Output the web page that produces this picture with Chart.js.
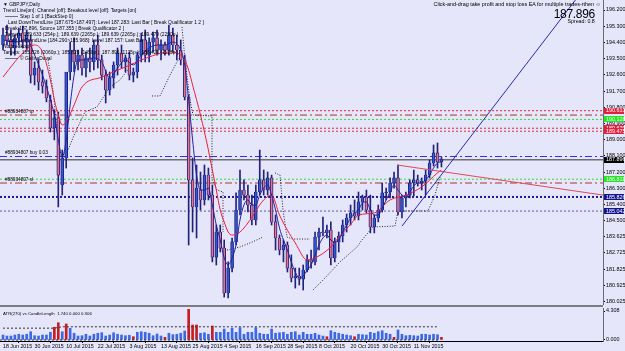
<!DOCTYPE html>
<html><head><meta charset="utf-8">
<script src="https://cdn.jsdelivr.net/npm/chart.js@4.4.0/dist/chart.umd.min.js"></script>
<style>
html,body{margin:0;padding:0;background:#E6E6FA;width:625px;height:351px;overflow:hidden;position:relative;font-family:'Liberation Sans',Arial,sans-serif;}
canvas{position:absolute;left:0;}
#c1{top:0;}
#c2{top:307px;}
.blk{position:absolute;white-space:nowrap;color:#000;transform-origin:0 0;}
.sep{position:absolute;left:0;top:305px;width:603px;height:2px;background:#7c7c84;}
</style></head><body>
<canvas id="c1" width="625" height="305"></canvas>
<div class="sep"></div>
<canvas id="c2" width="625" height="44"></canvas>

<div class="blk" style="left:3px;top:1px;font-size:9.8px;line-height:12px;transform:scale(0.5);">
<div>▼ GBPJPY,Daily</div>
<div>Trend Line[on]: Channel [off]: Breakout level [off]: Targets [on]</div>
<div style="padding-left:34px;position:relative;"><span style="position:absolute;left:4px;top:6px;width:26px;border-top:1px solid #000;"></span>Step 1 of 1 [BackStep 0]</div>
<div style="padding-left:10px;">Last DownTrendLine [187.675&gt;187.497]: Level 187.283: Last Bar [ Break Qualificator 1 2 ]</div>
<div style="padding-left:4px;">Break 187.896, Source 187.355 [ Break Qualificator 2 ]</div>
<div style="padding-left:4px;">Targets: 189.633 (254p.); 189.639 (2265p.); 189.639 (2265p.); 189.479 (2290p.)</div>
<div style="padding-left:10px;">Last UpTrendLine [184.290&gt;185.968]: Level 187.157: Last Bar</div>
<div>No breakout</div>
<div>Targets: 185.826 (2060p.); 185.826 (1450p.); 187.896 (1125p.); 188.420 (1125p.)</div>
<div style="padding-left:34px;position:relative;"><span style="position:absolute;left:4px;top:6px;width:26px;border-top:1px solid #000;"></span>© GalinaDuval</div>
</div>

<div class="blk" style="right:24px;top:1px;font-size:10.8px;line-height:12px;transform-origin:100% 0;transform:scale(0.5);">Click-and-drag take profit and stop loss EA for multiple trades-rthen ☺</div>
<div class="blk" style="right:30px;top:7px;font-size:12px;line-height:14px;letter-spacing:-0.3px;">187.896</div>
<div class="blk" style="right:30px;top:18px;font-size:10.6px;line-height:12px;transform-origin:100% 0;transform:scale(0.5);">Spread: 0.8</div>

<div class="blk" style="left:5px;top:108px;font-size:9.4px;line-height:12px;transform:scale(0.5);">#88934807 tp</div>
<div class="blk" style="left:5px;top:149px;font-size:9.4px;line-height:12px;transform:scale(0.5);">#88934807 buy 0.03</div>
<div class="blk" style="left:5px;top:176px;font-size:9.4px;line-height:12px;transform:scale(0.5);">#88934807 sl</div>
<div class="blk" style="left:3px;top:310px;font-size:8.6px;line-height:12px;transform:scale(0.5);">ATR(270) vs CandleLength&nbsp; 1.740 0.000 0.306</div>

<script>
// ---------- DATA ----------
const opens  = [194.26,194.81,194.54,194.09,194.65,194.92,194.42,194.54,192.59,192.98,192.21,191.98,191.21,189.65,190.21,186.49,187.99,192.76,193.98,193.32,193.70,192.98,193.54,193.32,194.26,193.43,192.59,191.76,192.43,193.15,193.81,193.32,193.54,192.59,192.76,193.70,194.54,193.70,194.42,194.65,193.98,194.26,193.98,194.81,194.26,193.98,193.43,191.37,186.77,185.27,186.21,185.66,187.04,185.93,182.49,183.88,182.99,180.50,181.88,183.33,185.10,186.21,185.93,185.38,184.55,186.10,186.77,186.21,186.88,184.44,183.55,182.88,183.16,181.88,181.33,181.44,181.27,181.77,182.33,182.22,183.60,183.88,183.83,183.99,182.44,183.33,183.66,184.27,184.66,184.94,184.77,185.55,185.82,185.10,184.16,184.66,185.10,186.05,186.10,186.60,186.88,184.99,185.77,185.93,186.60,186.77,186.60,186.71,187.04,187.71,188.27,187.77];
const highs  = [195.20,195.37,195.09,194.81,195.20,195.31,195.09,194.81,193.32,193.43,192.87,192.32,191.48,190.65,190.54,188.43,191.65,194.42,194.65,193.98,194.09,193.87,194.09,194.54,194.81,193.70,192.87,192.76,193.32,194.09,194.26,193.70,193.87,192.98,193.87,194.92,195.09,194.65,194.98,195.09,194.54,194.42,195.37,195.20,194.81,194.54,193.70,191.48,187.99,187.60,187.21,187.60,187.43,186.49,184.27,184.27,183.44,182.22,183.55,186.05,187.32,186.77,186.49,185.93,186.49,188.43,187.32,187.21,187.04,184.83,183.72,183.44,183.33,182.61,181.88,181.88,182.05,182.61,182.88,183.88,184.10,184.71,184.27,184.44,183.55,183.88,184.55,184.88,185.38,185.66,186.10,185.93,186.21,185.93,184.83,185.38,186.60,186.32,186.88,187.21,187.60,185.93,186.10,186.77,187.32,187.04,186.88,187.32,187.88,188.71,188.82,188.02];
const lows   = [193.98,194.26,193.70,193.70,194.26,194.09,193.98,192.15,192.04,191.76,191.59,191.10,189.43,188.99,185.27,185.93,187.43,192.32,192.76,192.87,192.59,192.48,192.76,192.87,192.98,192.32,191.04,191.48,191.87,192.59,192.98,192.76,192.32,192.21,192.43,193.32,193.32,193.32,193.87,193.70,193.43,193.70,193.70,193.87,193.43,193.15,191.21,183.16,183.88,183.55,185.10,185.38,185.66,182.22,182.05,182.77,180.27,180.22,181.66,183.16,184.83,185.66,184.99,184.27,184.27,185.93,185.93,185.93,184.27,182.88,182.61,182.22,181.66,181.11,180.77,180.94,180.66,181.66,181.88,182.05,182.88,183.66,183.55,182.05,182.22,182.77,183.33,183.88,184.27,184.55,184.55,185.10,184.94,183.83,183.83,184.44,184.99,185.66,185.77,186.32,184.83,184.66,185.27,185.77,185.88,186.43,186.21,185.93,186.88,187.54,187.43,187.49];
const closes = [194.81,194.54,194.09,194.65,194.92,194.42,194.81,192.59,192.98,192.21,191.98,191.32,189.65,190.21,187.04,187.99,192.76,193.98,193.32,193.70,192.98,193.54,193.32,194.26,193.43,192.59,191.76,192.43,193.15,193.81,193.32,193.54,192.59,192.76,193.70,194.54,193.70,194.42,194.65,193.98,194.26,193.98,194.81,194.26,193.98,193.43,191.37,186.77,185.27,186.32,185.66,187.04,185.93,182.49,183.88,182.99,180.50,181.88,183.33,185.10,186.21,185.93,185.38,184.55,186.10,186.77,186.21,186.88,184.44,183.55,182.88,183.16,181.88,181.33,181.44,181.27,181.77,182.33,182.22,183.60,183.88,183.83,183.99,182.44,183.33,183.66,184.27,184.66,184.94,184.77,185.55,185.82,185.10,184.16,184.66,185.10,186.05,186.10,186.60,186.88,184.99,185.77,185.93,186.60,186.77,186.60,186.71,187.04,187.71,188.27,187.77,187.90];

const redMaIdx = [0,3,5,8,10,12,13,14,15,16,18,20,25,31,37,42,45,46,47,48,50,52,53,54,55,56,57,58,60,62,66,68,70,74,77,79,83,85,88,90,94,98,102,106,110,111];
const redMaVal = [192.48,193.32,193.81,194.26,193.87,192.32,191.21,190.37,189.82,189.99,190.93,191.93,192.48,193.04,193.59,193.87,193.70,193.43,192.87,192.04,190.37,188.43,187.32,186.21,185.10,184.44,183.88,183.71,183.88,184.38,185.66,185.93,184.82,183.27,182.33,182.44,183.05,183.60,184.30,184.82,184.94,185.66,185.93,186.38,187.16,187.32];

const navyMaIdx = [0,3,6,8,10,12,13,14,15,16,17,18,19,21,23,25,27,29,31,33,35,37,39,41,43,45,46,47,48,49,50,51,52,53,54,55,56,57,58,59,60,61,62,63,64,65,66,67,68,69,70,71,72,73,74,75,76,77,78,79,80,81,82,83,84,85,86,87,88,89,90,91,92,93,94,95,96,97,98,99,100,101,102,103,104,105,106,107,108,109,110,111];
const navyMaVal = [194.54,194.42,194.54,193.70,192.59,191.21,190.37,188.99,188.04,188.99,190.93,192.59,193.43,193.43,193.54,193.31,192.43,192.98,193.43,193.15,193.70,194.09,194.26,194.26,194.42,193.98,193.15,191.21,188.99,187.04,186.21,186.21,186.32,185.38,184.27,183.44,182.44,182.05,182.44,183.16,184.55,185.38,185.66,185.38,185.38,185.93,186.32,186.49,185.93,185.10,184.10,183.44,182.88,182.22,181.66,181.33,181.44,181.77,182.05,182.61,183.16,183.55,183.71,183.44,183.33,183.44,183.88,184.27,184.66,184.88,185.10,185.49,185.55,185.10,184.82,184.82,185.21,185.66,186.10,186.49,186.21,185.93,185.77,186.10,186.43,186.60,186.60,186.77,187.04,187.43,187.71,187.77];

const stopIdx = [11.39,12.66,13.67,14.43,16.46,18.23,20.76,23.80,27.09,29.62,32.91,null,37.72,39.75,42.28,44.05,44.81,null,45.32,46.08,47.34,48.10,52.91,52.91,54.18,55.70,55.70,null,56.71,60.00,62.53,65.82,null,68.86,70.13,70.89,71.90,73.42,77.72,null,78.48,81.52,85.32,89.62,90.89,93.67,99.24,100.00,107.59,109.37,110.63];
const stopVal = [193.43,191.76,189.54,188.04,188.43,189.38,190.54,190.82,191.93,192.32,193.26,null,191.43,191.43,192.59,193.32,193.59,null,195.26,193.43,191.21,190.37,190.32,186.77,186.21,186.10,183.88,null,182.88,183.05,183.27,183.60,null,187.16,187.04,185.10,183.60,183.49,183.49,null,180.66,181.33,182.22,183.05,183.44,184.16,184.21,185.05,185.05,185.93,186.93];

const trendUpIdx = [101.01,151.14];
const trendUpVal = [184.21,198.53];
const trendDownIdx = [99.75,151.9];
const trendDownVal = [187.60,185.93];

const levelValues = [190.613,190.37,190.128,189.639,189.475,188.07,187.896,186.811,186.6,185.826,185.042];
const boxValues   = [190.613,190.128,189.639,189.475,187.896,186.811,185.826,185.042];
const priceTicks  = [196.2,195.3,194.4,193.5,192.6,191.7,190.8,189.9,189.0,188.1,187.2,186.3,185.4,184.5,183.625,182.725,181.825,180.925,180.025];

const atrValues = [0.74,0.59,0.59,0.74,0.85,0.74,0.85,1.23,0.64,0.59,0.74,0.74,1.14,1.89,2.57,1.23,2.38,1.74,1.00,0.59,0.64,0.85,0.59,0.85,1.00,1.08,0.59,0.74,1.08,0.85,0.74,0.64,0.70,0.49,1.14,1.23,1.14,1.00,0.64,0.89,0.59,0.40,1.00,0.79,0.85,1.00,1.34,4.56,2.23,2.23,1.00,1.08,0.85,2.08,1.14,1.14,1.63,1.14,1.74,1.14,1.83,0.85,1.14,1.14,1.83,1.00,0.85,0.85,1.63,1.00,1.08,1.14,0.85,1.14,1.23,0.74,1.14,0.85,0.85,1.00,0.74,0.59,0.49,1.38,1.14,1.00,0.85,0.74,0.64,0.49,0.85,0.79,0.74,1.14,1.00,1.23,1.38,1.00,0.85,0.40,1.49,0.85,0.64,0.70,0.64,0.59,0.85,0.85,0.74,0.85,0.79,0.40];
const atrRedIdx = [13,14,16,33,41,47,48,49,53,82,89,99,111];
const atrLevelIdx = [0,13,15,110];
const atrLevelVal = [1.76,1.76,1.96,1.96];
const atrTicks = [0,4.308];

const dateTickIdx = [0,8,16,24,32,40,48,56,64,72,80,88,96,104];
const dateLabels = ["18 Jun 2015","30 Jun 2015","10 Jul 2015","22 Jul 2015","3 Aug 2015","13 Aug 2015","25 Aug 2015","4 Sep 2015","16 Sep 2015","28 Sep 2015","8 Oct 2015","20 Oct 2015","30 Oct 2015","11 Nov 2015"];

// ---------- STYLES ----------
const X_MIN = -0.76, X_MAX = 151.9;
const FONT = "'Liberation Sans', Arial, sans-serif";
const levelColors = ['#E0283C','#A83232','#33DD33','#E0283C','#E0283C','#3030EE','#6E6E6E','#33DD33','#A83232','#1C1C8C','#5A5AAA'];
const levelDash = [[2,2],[7,3,2,3],[2,2],[2,2],[2,2],[7,3,2,3],[],[2,2],[7,3,2,3],[2,2],[2,2]];
const levelWidth = [1,1,1,1,1,1,1.5,1,1,2,1];
const boxBg = ['#E0203C','#22E622','#E0203C','#E0203C','#000000','#22E622','#14148C','#14148C'];
const boxFg = ['#FFFFFF','#FFFFFF','#FFFFFF','#FFFFFF','#FFFFFF','#FFFFFF','#FFFFFF','#FFFFFF'];

const zip = (a,b)=>a.map((x,i)=>({x:x, y:b[i]}));
const idx = opens.map((_,i)=>i);

const datasets = [];
levelValues.forEach((v,k)=>{
  datasets.push({type:'line', data:[{x:X_MIN,y:v},{x:X_MAX,y:v}], borderColor:levelColors[k], borderDash:levelDash[k], borderWidth:levelWidth[k], pointRadius:0, order:30});
});
datasets.push({type:'line', data:zip(stopIdx,stopVal), borderColor:'#222', borderDash:[1,1.6], borderWidth:1, pointRadius:0, spanGaps:false, order:25});
datasets.push({type:'bar', data:idx.map(i=>({x:i,y:[lows[i],highs[i]]})), backgroundColor:'#22227C', barThickness:1, grouped:false, borderWidth:0, order:20});
datasets.push({type:'bar', data:idx.map(i=>({x:i,y:[opens[i],closes[i]]})),
  backgroundColor: idx.map(i=> closes[i]>=opens[i] ? '#3457DA' : '#F0708A'),
  borderColor:'#1E2278', borderWidth:{left:1,right:1,top:0.6,bottom:0.6}, borderSkipped:false, barThickness:3, grouped:false, order:19});
datasets.push({type:'line', data:zip(redMaIdx,redMaVal), borderColor:'#E8203C', borderWidth:1, pointRadius:0, cubicInterpolationMode:'monotone', order:10});
datasets.push({type:'line', data:zip(navyMaIdx,navyMaVal), borderColor:'#22229E', borderWidth:1, pointRadius:0, cubicInterpolationMode:'monotone', order:9});
datasets.push({type:'line', data:zip(trendDownIdx,trendDownVal), borderColor:'#E04858', borderWidth:1, pointRadius:0, order:5});
datasets.push({type:'line', data:zip(trendUpIdx,trendUpVal), borderColor:'#2A2AA8', borderWidth:1, pointRadius:0, order:4});

const boxPlugin = {
  id:'boxes',
  afterDraw(chart){
    const s = chart.scales.y, ctx = chart.ctx, left = chart.chartArea.right;
    ctx.save();
    ctx.font = '5.4px ' + FONT;
    ctx.textBaseline = 'middle';
    boxValues.forEach((v,k)=>{
      const y = s.getPixelForValue(v);
      ctx.fillStyle = boxBg[k];
      ctx.fillRect(left+1, Math.round(y)-3, 20, 6);
      ctx.fillStyle = boxFg[k];
      ctx.fillText(v.toFixed(3), left+3, y+0.3);
    });
    ctx.restore();
  }
};

Chart.defaults.font.family = FONT;

new Chart(document.getElementById('c1'), {
  type:'line',
  data:{datasets},
  options:{
    responsive:false, animation:false, events:[], normalized:true,
    layout:{padding:0},
    plugins:{legend:{display:false}, tooltip:{enabled:false}},
    scales:{
      x:{type:'linear', min:X_MIN, max:X_MAX, display:false, offset:false},
      y:{type:'linear', position:'right', min:179.83, max:196.755,
         afterBuildTicks(s){ s.ticks = priceTicks.map(v=>({value:v})); },
         afterFit(s){ s.width = 22; s.paddingTop = 0; s.paddingBottom = 0; },
         ticks:{font:{size:5.4}, color:'#000', padding:1, autoSkip:false, callback:v=>Number(v).toFixed(3)},
         grid:{display:true, drawOnChartArea:false, drawTicks:true, tickLength:2, color:'#000'},
         border:{display:true, color:'#6a6a72'}
      }
    }
  },
  plugins:[boxPlugin]
});

new Chart(document.getElementById('c2'), {
  type:'line',
  data:{datasets:[
    {type:'line', data:zip(atrLevelIdx,atrLevelVal), borderColor:'#333', borderDash:[2,2], borderWidth:1, pointRadius:0, order:1},
    {type:'line', data:[{x:X_MIN,y:0},{x:110.6,y:0}], borderColor:'#333', borderDash:[2,2], borderWidth:1, pointRadius:0, order:2},
    {type:'bar', data:idx.map(i=>({x:i,y:atrValues[i]})), backgroundColor: idx.map(i=> atrRedIdx.includes(i) ? '#C81E22' : '#3C68E6'), barThickness:2, grouped:false, borderWidth:0, order:3}
  ]},
  options:{
    responsive:false, animation:false, events:[], normalized:true,
    layout:{padding:{top:1,left:0,right:0,bottom:0}},
    plugins:{legend:{display:false}, tooltip:{enabled:false}},
    scales:{
      x:{type:'linear', min:X_MIN, max:X_MAX, offset:false,
         afterBuildTicks(s){ s.ticks = dateTickIdx.map(v=>({value:v})); },
         afterFit(s){ s.height = 10; s.paddingLeft = 0; s.paddingRight = 0; },
         ticks:{font:{size:5.3}, color:'#000', padding:0, autoSkip:false, maxRotation:0, minRotation:0, align:'start',
                callback:v=>{ const k = dateTickIdx.indexOf(Math.round(v)); return k>=0 ? dateLabels[k] : ''; }},
         grid:{display:true, drawOnChartArea:false, drawTicks:true, tickLength:2, color:'#000'},
         border:{display:true, color:'#000'}
      },
      y:{type:'linear', position:'right', min:-0.149, max:4.755,
         afterBuildTicks(s){ s.ticks = atrTicks.map(v=>({value:v})); },
         afterFit(s){ s.width = 22; s.paddingTop = 0; s.paddingBottom = 0; },
         ticks:{font:{size:5.4}, color:'#000', padding:1, autoSkip:false, callback:v=>Number(v).toFixed(3)},
         grid:{display:true, drawOnChartArea:false, drawTicks:true, tickLength:2, color:'#000'},
         border:{display:true, color:'#6a6a72'}
      }
    }
  }
});
</script>
</body></html>
